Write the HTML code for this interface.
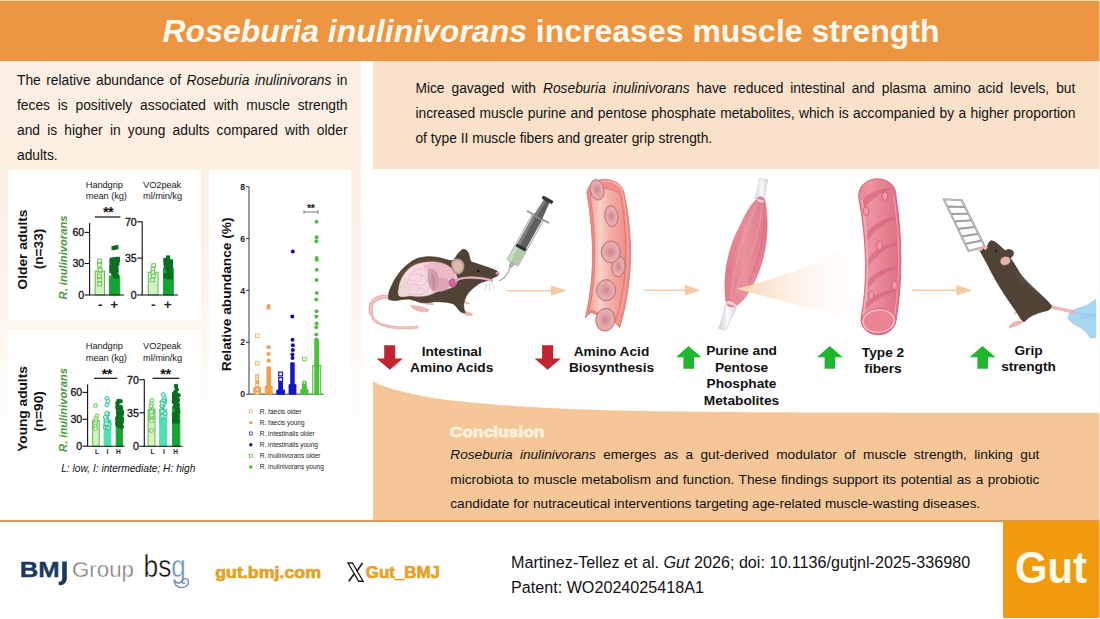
<!DOCTYPE html>
<html>
<head>
<meta charset="utf-8">
<title>Roseburia inulinivorans increases muscle strength</title>
<style>
html,body{margin:0;padding:0;}
body{width:1100px;height:619px;position:relative;overflow:hidden;background:#fff;font-family:"Liberation Sans",sans-serif;color:#111;}
.abs{position:absolute;}
#hdr{left:0;top:0;width:1100px;height:61px;background:linear-gradient(180deg,#ffd89a 0,#ffd89a 1px,#dc9b52 1.2px,#dc9b52 2.6px,#ee9541 3.6px,#ee9541 100%);}
#hdrtop{left:0;top:0;width:1100px;height:1.5px;background:#f6cf98;}
#title{left:0;top:0;width:1100px;height:61px;line-height:63px;text-align:center;color:#fffaf0;font-weight:bold;font-size:31.9px;letter-spacing:0.05px;padding-left:2px;box-sizing:border-box;}
#leftbg{left:0;top:61px;width:360.8px;height:459px;background:linear-gradient(180deg,#fcefe3 0%,#fcefe2 22%,#fcf2ea 43%,#fefbf8 72%,#ffffff 86%);}
#rtbox{left:373px;top:61px;width:727px;height:107.5px;background:#fae1ca;}
.wb{background:#fff;box-shadow:0 0 1.2px 0.2px #fff;}
#wb1{left:7.8px;top:169.6px;width:193.5px;height:150.3px;}
#wb2{left:7.8px;top:330.5px;width:193.5px;height:151px;}
#wb3{left:208.8px;top:169.6px;width:142.2px;height:311.9px;}
.para{font-size:13.8px;color:#111;}
.para div{white-space:nowrap;text-align:justify;text-align-last:justify;}
.para div.last{text-align:left;text-align-last:left;}
#ltext{left:17px;top:69.2px;width:330.5px;line-height:24.8px;}
#rtext{left:415.4px;top:75.9px;width:660px;line-height:25.3px;}
#ctext{left:450.3px;top:443px;width:589px;line-height:24.7px;font-size:13.65px;}
#concl{left:450.3px;top:424px;font-size:14.3px;font-weight:bold;color:#fdf0de;-webkit-text-stroke:0.9px #fdf0de;transform-origin:0 0;transform:scaleX(1.185);white-space:nowrap;letter-spacing:0.2px;}
#fline{left:0;top:519.8px;width:1100px;height:1.9px;background:#dc9a62;}
#gutbox{left:1003px;top:520.5px;width:97px;height:97.2px;background:#f09a0e;}
#cite{left:511px;top:550.4px;font-size:16.15px;line-height:24.9px;color:#111;white-space:nowrap;}
.lab{font-weight:bold;font-size:13.7px;line-height:16.3px;text-align:center;color:#111;white-space:nowrap;}
</style>
</head>
<body>
<div class="abs" id="hdr"></div>
<div class="abs" id="title"><i>Roseburia inulinivorans</i> increases muscle strength</div>

<div class="abs" id="leftbg"></div>
<div class="abs" id="rtbox"></div>
<div class="abs wb" id="wb1"></div>
<div class="abs wb" id="wb2"></div>
<div class="abs wb" id="wb3"></div>

<div class="abs para" id="ltext"><div>The relative abundance of <i>Roseburia inulinivorans</i> in</div><div>feces is positively associated with muscle strength</div><div>and is higher in young adults compared with older</div><div class="last">adults.</div></div>

<div class="abs para" id="rtext"><div>Mice gavaged with <i>Roseburia inulinivorans</i> have reduced intestinal and plasma amino acid levels, but</div><div>increased muscle purine and pentose phosphate metabolites, which is accompanied by a higher proportion</div><div class="last">of type II muscle fibers and greater grip strength.</div></div>

<div class="abs" id="fline"></div>
<div class="abs" id="gutbox"></div>
<!-- MAIN SVG LAYER -->
<svg class="abs" id="main" style="left:0;top:0" width="1100" height="619" viewBox="0 0 1100 619">
<defs>
<linearGradient id="curveg" x1="0" y1="0" x2="0" y2="1">
<stop offset="0" stop-color="#f5c698"/><stop offset="1" stop-color="#f5c698"/>
</linearGradient>
</defs>
<!-- orange curved region -->
<path id="curve" d="M373,381.3 C381,386.5 405,393.5 438,398.7 C480,404.3 540,408 600,410 C700,412.6 800,412.7 1100,412.7 L1100,520 L373,520 Z" fill="url(#curveg)"/>
<g id="charts" font-family="Liberation Sans, sans-serif">
<text transform="translate(26.6,249.5) rotate(-90)" font-size="13.7" text-anchor="middle" font-weight="bold" font-style="normal" fill="#111" >Older adults</text>
<text transform="translate(42.6,249.0) rotate(-90)" font-size="13.7" text-anchor="middle" font-weight="bold" font-style="normal" fill="#111" >(n=33)</text>
<text transform="translate(26.6,409.0) rotate(-90)" font-size="13.7" text-anchor="middle" font-weight="bold" font-style="normal" fill="#111" >Young adults</text>
<text transform="translate(42.6,411.5) rotate(-90)" font-size="13.7" text-anchor="middle" font-weight="bold" font-style="normal" fill="#111" >(n=90)</text>
<text transform="translate(66.8,257.5) rotate(-90)" font-size="11.2" text-anchor="middle" font-weight="bold" font-style="italic" fill="#4a9a3a" >R. inulinivorans</text>
<text transform="translate(66.8,410.0) rotate(-90)" font-size="11.2" text-anchor="middle" font-weight="bold" font-style="italic" fill="#4a9a3a" >R. inulinivorans</text>
<text x="85.8" y="188.3" font-size="9.3" text-anchor="start" font-weight="normal" font-style="normal" fill="#1a1a1a" letter-spacing="-0.1">Handgrip</text>
<text x="85.8" y="199.3" font-size="9.3" text-anchor="start" font-weight="normal" font-style="normal" fill="#1a1a1a" letter-spacing="-0.1">mean (kg)</text>
<text x="108.0" y="216.5" font-size="14.5" text-anchor="middle" font-weight="bold" font-style="normal" fill="#111" letter-spacing="-0.6">**</text>
<line x1="94.7" y1="217.0" x2="120.4" y2="217.0" stroke="#111" stroke-width="1.2"/>
<rect x="95.1" y="271.0" width="9.4" height="24.0" fill="#d3f2c4" stroke="#5cbf4c" stroke-width="1"/>
<rect x="109.6" y="276.0" width="10.1" height="19.0" fill="#15a534" stroke="#15a534" stroke-width="1"/>
<path d="M89.6,223.0 V295.0 H124.3" fill="none" stroke="#111" stroke-width="1.1"/>
<line x1="84.6" y1="232.4" x2="89.6" y2="232.4" stroke="#111" stroke-width="1.1"/>
<text x="84.0" y="236.2" font-size="10.6" text-anchor="end" font-weight="normal" font-style="normal" fill="#111" letter-spacing="-0.1" stroke="#111" stroke-width="0.3">60</text>
<line x1="84.6" y1="263.5" x2="89.6" y2="263.5" stroke="#111" stroke-width="1.1"/>
<text x="84.0" y="267.3" font-size="10.6" text-anchor="end" font-weight="normal" font-style="normal" fill="#111" letter-spacing="-0.1" stroke="#111" stroke-width="0.3">30</text>
<line x1="84.6" y1="295.0" x2="89.6" y2="295.0" stroke="#111" stroke-width="1.1"/>
<text x="84.0" y="298.8" font-size="10.6" text-anchor="end" font-weight="normal" font-style="normal" fill="#111" letter-spacing="-0.1" stroke="#111" stroke-width="0.3">0</text>
<path d="M99.8,268.0 V272.0 M96.8,268.0 H102.8 M96.8,272.0 H102.8" stroke="#5cbf4c" stroke-width="0.9" fill="none"/>
<rect x="97.8" y="259.2" width="3.6" height="3.6" fill="#eefae8" stroke="#5cbf4c" stroke-width="0.9"/>
<rect x="97.6" y="263.2" width="3.6" height="3.6" fill="#eefae8" stroke="#5cbf4c" stroke-width="0.9"/>
<rect x="98.2" y="268.2" width="3.6" height="3.6" fill="#eefae8" stroke="#5cbf4c" stroke-width="0.9"/>
<rect x="97.5" y="274.2" width="3.6" height="3.6" fill="#eefae8" stroke="#5cbf4c" stroke-width="0.9"/>
<rect x="98.0" y="278.2" width="3.6" height="3.6" fill="#eefae8" stroke="#5cbf4c" stroke-width="0.9"/>
<rect x="97.8" y="282.2" width="3.6" height="3.6" fill="#eefae8" stroke="#5cbf4c" stroke-width="0.9"/>
<rect x="109.5" y="265.5" width="4.2" height="4.2" fill="#0b6e20"/>
<rect x="109.4" y="264.1" width="4.2" height="4.2" fill="#0b6e20"/>
<rect x="109.6" y="257.6" width="4.2" height="4.2" fill="#0b6e20"/>
<rect x="112.0" y="271.6" width="4.2" height="4.2" fill="#0b6e20"/>
<rect x="109.9" y="260.1" width="4.2" height="4.2" fill="#0b6e20"/>
<rect x="113.4" y="273.9" width="4.2" height="4.2" fill="#0b6e20"/>
<rect x="113.0" y="263.4" width="4.2" height="4.2" fill="#0b6e20"/>
<rect x="115.7" y="256.8" width="4.2" height="4.2" fill="#0b6e20"/>
<rect x="114.9" y="261.4" width="4.2" height="4.2" fill="#0b6e20"/>
<rect x="110.1" y="258.1" width="4.2" height="4.2" fill="#0b6e20"/>
<rect x="111.2" y="271.4" width="4.2" height="4.2" fill="#0b6e20"/>
<rect x="110.3" y="267.0" width="4.2" height="4.2" fill="#0b6e20"/>
<rect x="113.4" y="263.0" width="4.2" height="4.2" fill="#0b6e20"/>
<rect x="112.8" y="257.1" width="4.2" height="4.2" fill="#0b6e20"/>
<rect x="109.5" y="259.8" width="4.2" height="4.2" fill="#0b6e20"/>
<rect x="113.7" y="264.0" width="4.2" height="4.2" fill="#0b6e20"/>
<rect x="111.2" y="267.0" width="4.2" height="4.2" fill="#0b6e20"/>
<rect x="112.2" y="261.6" width="4.2" height="4.2" fill="#0b6e20"/>
<rect x="114.5" y="269.2" width="4.2" height="4.2" fill="#0b6e20"/>
<rect x="110.8" y="266.8" width="4.2" height="4.2" fill="#0b6e20"/>
<rect x="112.7" y="272.5" width="4.2" height="4.2" fill="#0b6e20"/>
<rect x="114.1" y="261.4" width="4.2" height="4.2" fill="#0b6e20"/>
<rect x="115.8" y="258.1" width="4.2" height="4.2" fill="#0b6e20"/>
<rect x="111.9" y="270.3" width="4.2" height="4.2" fill="#0b6e20"/>
<rect x="110.1" y="265.2" width="4.2" height="4.2" fill="#0b6e20"/>
<rect x="109.4" y="268.6" width="4.2" height="4.2" fill="#0b6e20"/>
<rect x="114.3" y="266.8" width="4.2" height="4.2" fill="#0b6e20"/>
<rect x="115.1" y="261.9" width="4.2" height="4.2" fill="#0b6e20"/>
<rect x="113.8" y="267.2" width="4.2" height="4.2" fill="#0b6e20"/>
<rect x="113.0" y="264.6" width="4.2" height="4.2" fill="#0b6e20"/>
<rect x="114.8" y="273.8" width="4.2" height="4.2" fill="#0b6e20"/>
<rect x="112.3" y="268.5" width="4.2" height="4.2" fill="#0b6e20"/>
<rect x="109.5" y="269.2" width="4.2" height="4.2" fill="#0b6e20"/>
<rect x="113.5" y="274.8" width="4.2" height="4.2" fill="#0b6e20"/>
<rect x="111.5" y="245.9" width="4.2" height="4.2" fill="#0b6e20"/>
<rect x="114.3" y="245.2" width="4.2" height="4.2" fill="#0b6e20"/>
<text x="100.3" y="309.0" font-size="13.5" text-anchor="middle" font-weight="bold" font-style="#111" fill="#222" >-</text>
<text x="114.3" y="309.0" font-size="13.5" text-anchor="middle" font-weight="bold" font-style="#111" fill="#222" >+</text>
<text x="143.1" y="188.3" font-size="9.3" text-anchor="start" font-weight="normal" font-style="normal" fill="#1a1a1a" letter-spacing="-0.1">VO2peak</text>
<text x="143.1" y="199.3" font-size="9.3" text-anchor="start" font-weight="normal" font-style="normal" fill="#1a1a1a" letter-spacing="-0.1">ml/min/kg</text>
<rect x="148.2" y="272.2" width="9.8" height="22.8" fill="#d3f2c4" stroke="#5cbf4c" stroke-width="1"/>
<rect x="163.5" y="268.0" width="9.8" height="27.0" fill="#15a534" stroke="#15a534" stroke-width="1"/>
<path d="M142.2,221.6 V295.0 H178.0" fill="none" stroke="#111" stroke-width="1.1"/>
<line x1="137.2" y1="221.8" x2="142.2" y2="221.8" stroke="#111" stroke-width="1.1"/>
<text x="136.6" y="225.6" font-size="10.6" text-anchor="end" font-weight="normal" font-style="normal" fill="#111" letter-spacing="-0.1" stroke="#111" stroke-width="0.3">70</text>
<line x1="137.2" y1="258.1" x2="142.2" y2="258.1" stroke="#111" stroke-width="1.1"/>
<text x="136.6" y="261.9" font-size="10.6" text-anchor="end" font-weight="normal" font-style="normal" fill="#111" letter-spacing="-0.1" stroke="#111" stroke-width="0.3">35</text>
<line x1="137.2" y1="295.0" x2="142.2" y2="295.0" stroke="#111" stroke-width="1.1"/>
<text x="136.6" y="298.8" font-size="10.6" text-anchor="end" font-weight="normal" font-style="normal" fill="#111" letter-spacing="-0.1" stroke="#111" stroke-width="0.3">0</text>
<rect x="151.8" y="263.7" width="3.6" height="3.6" fill="#eefae8" stroke="#5cbf4c" stroke-width="0.9"/>
<rect x="151.0" y="267.2" width="3.6" height="3.6" fill="#eefae8" stroke="#5cbf4c" stroke-width="0.9"/>
<rect x="151.1" y="270.7" width="3.6" height="3.6" fill="#eefae8" stroke="#5cbf4c" stroke-width="0.9"/>
<rect x="151.6" y="274.2" width="3.6" height="3.6" fill="#eefae8" stroke="#5cbf4c" stroke-width="0.9"/>
<rect x="150.5" y="278.2" width="3.6" height="3.6" fill="#eefae8" stroke="#5cbf4c" stroke-width="0.9"/>
<rect x="166.0" y="260.9" width="4.2" height="4.2" fill="#0b6e20"/>
<rect x="163.8" y="259.0" width="4.2" height="4.2" fill="#0b6e20"/>
<rect x="168.1" y="260.2" width="4.2" height="4.2" fill="#0b6e20"/>
<rect x="164.6" y="264.9" width="4.2" height="4.2" fill="#0b6e20"/>
<rect x="168.8" y="259.4" width="4.2" height="4.2" fill="#0b6e20"/>
<rect x="166.0" y="267.8" width="4.2" height="4.2" fill="#0b6e20"/>
<rect x="168.8" y="272.6" width="4.2" height="4.2" fill="#0b6e20"/>
<rect x="168.7" y="262.9" width="4.2" height="4.2" fill="#0b6e20"/>
<rect x="165.7" y="264.4" width="4.2" height="4.2" fill="#0b6e20"/>
<rect x="168.8" y="275.1" width="4.2" height="4.2" fill="#0b6e20"/>
<rect x="164.0" y="261.1" width="4.2" height="4.2" fill="#0b6e20"/>
<rect x="164.5" y="262.1" width="4.2" height="4.2" fill="#0b6e20"/>
<rect x="166.2" y="268.5" width="4.2" height="4.2" fill="#0b6e20"/>
<rect x="164.7" y="258.0" width="4.2" height="4.2" fill="#0b6e20"/>
<rect x="165.8" y="264.5" width="4.2" height="4.2" fill="#0b6e20"/>
<rect x="166.7" y="275.1" width="4.2" height="4.2" fill="#0b6e20"/>
<rect x="167.6" y="267.2" width="4.2" height="4.2" fill="#0b6e20"/>
<rect x="167.1" y="270.1" width="4.2" height="4.2" fill="#0b6e20"/>
<rect x="163.4" y="274.1" width="4.2" height="4.2" fill="#0b6e20"/>
<rect x="168.1" y="273.6" width="4.2" height="4.2" fill="#0b6e20"/>
<rect x="168.3" y="265.0" width="4.2" height="4.2" fill="#0b6e20"/>
<rect x="165.6" y="259.8" width="4.2" height="4.2" fill="#0b6e20"/>
<rect x="167.2" y="259.0" width="4.2" height="4.2" fill="#0b6e20"/>
<rect x="163.4" y="261.7" width="4.2" height="4.2" fill="#0b6e20"/>
<rect x="164.1" y="264.0" width="4.2" height="4.2" fill="#0b6e20"/>
<rect x="163.3" y="257.9" width="4.2" height="4.2" fill="#0b6e20"/>
<rect x="164.0" y="259.7" width="4.2" height="4.2" fill="#0b6e20"/>
<rect x="165.4" y="258.4" width="4.2" height="4.2" fill="#0b6e20"/>
<rect x="168.8" y="269.0" width="4.2" height="4.2" fill="#0b6e20"/>
<rect x="164.0" y="262.4" width="4.2" height="4.2" fill="#0b6e20"/>
<rect x="165.3" y="264.5" width="4.2" height="4.2" fill="#0b6e20"/>
<rect x="163.8" y="273.2" width="4.2" height="4.2" fill="#0b6e20"/>
<rect x="165.9" y="255.4" width="4.2" height="4.2" fill="#0b6e20"/>
<text x="153.2" y="309.0" font-size="13.5" text-anchor="middle" font-weight="bold" font-style="#111" fill="#222" >-</text>
<text x="167.8" y="309.0" font-size="13.5" text-anchor="middle" font-weight="bold" font-style="#111" fill="#222" >+</text>
<text x="85.8" y="349.0" font-size="9.3" text-anchor="start" font-weight="normal" font-style="normal" fill="#1a1a1a" letter-spacing="-0.1">Handgrip</text>
<text x="85.8" y="360.8" font-size="9.3" text-anchor="start" font-weight="normal" font-style="normal" fill="#1a1a1a" letter-spacing="-0.1">mean (kg)</text>
<text x="106.8" y="378.5" font-size="14.5" text-anchor="middle" font-weight="bold" font-style="normal" fill="#111" letter-spacing="-0.6">**</text>
<line x1="94.0" y1="378.3" x2="117.4" y2="378.3" stroke="#111" stroke-width="1.2"/>
<rect x="92.6" y="420.5" width="6.6" height="25.7" fill="#d3f2c4" stroke="#5cbf4c" stroke-width="1"/>
<rect x="104.1" y="419.8" width="6.7" height="26.4" fill="#4fe0ae" stroke="#4fe0ae" stroke-width="1"/>
<rect x="116.2" y="417.0" width="6.2" height="29.2" fill="#15a534" stroke="#15a534" stroke-width="1"/>
<path d="M87.6,384.2 V446.2 H124.6" fill="none" stroke="#111" stroke-width="1.1"/>
<line x1="82.6" y1="392.4" x2="87.6" y2="392.4" stroke="#111" stroke-width="1.1"/>
<text x="82.0" y="396.2" font-size="10.6" text-anchor="end" font-weight="normal" font-style="normal" fill="#111" letter-spacing="-0.1" stroke="#111" stroke-width="0.3">60</text>
<line x1="82.6" y1="419.3" x2="87.6" y2="419.3" stroke="#111" stroke-width="1.1"/>
<text x="82.0" y="423.1" font-size="10.6" text-anchor="end" font-weight="normal" font-style="normal" fill="#111" letter-spacing="-0.1" stroke="#111" stroke-width="0.3">30</text>
<line x1="82.6" y1="446.2" x2="87.6" y2="446.2" stroke="#111" stroke-width="1.1"/>
<text x="82.0" y="450.0" font-size="10.6" text-anchor="end" font-weight="normal" font-style="normal" fill="#111" letter-spacing="-0.1" stroke="#111" stroke-width="0.3">0</text>
<circle cx="95.6" cy="405.5" r="2.0" fill="#e6f8dc" stroke="#5cbf4c" stroke-width="0.9"/>
<circle cx="97.0" cy="416.0" r="2.0" fill="#e6f8dc" stroke="#5cbf4c" stroke-width="0.9"/>
<circle cx="95.8" cy="418.5" r="2.0" fill="#e6f8dc" stroke="#5cbf4c" stroke-width="0.9"/>
<circle cx="95.9" cy="421.0" r="2.0" fill="#e6f8dc" stroke="#5cbf4c" stroke-width="0.9"/>
<circle cx="95.0" cy="423.5" r="2.0" fill="#e6f8dc" stroke="#5cbf4c" stroke-width="0.9"/>
<circle cx="95.0" cy="426.0" r="2.0" fill="#e6f8dc" stroke="#5cbf4c" stroke-width="0.9"/>
<circle cx="95.6" cy="428.5" r="2.0" fill="#e6f8dc" stroke="#5cbf4c" stroke-width="0.9"/>
<circle cx="107.0" cy="398.5" r="2.0" fill="#b8f5dc" stroke="#2fc090" stroke-width="0.9"/>
<circle cx="107.9" cy="401.5" r="2.0" fill="#b8f5dc" stroke="#2fc090" stroke-width="0.9"/>
<circle cx="106.9" cy="405.0" r="2.0" fill="#b8f5dc" stroke="#2fc090" stroke-width="0.9"/>
<circle cx="105.3" cy="427.3" r="2.0" fill="#b8f5dc" stroke="#2fc090" stroke-width="0.9"/>
<circle cx="107.5" cy="415.2" r="2.0" fill="#b8f5dc" stroke="#2fc090" stroke-width="0.9"/>
<circle cx="107.6" cy="413.4" r="2.0" fill="#b8f5dc" stroke="#2fc090" stroke-width="0.9"/>
<circle cx="107.5" cy="427.7" r="2.0" fill="#b8f5dc" stroke="#2fc090" stroke-width="0.9"/>
<circle cx="109.0" cy="423.4" r="2.0" fill="#b8f5dc" stroke="#2fc090" stroke-width="0.9"/>
<circle cx="106.3" cy="418.5" r="2.0" fill="#b8f5dc" stroke="#2fc090" stroke-width="0.9"/>
<circle cx="105.9" cy="424.6" r="2.0" fill="#b8f5dc" stroke="#2fc090" stroke-width="0.9"/>
<circle cx="107.5" cy="424.7" r="2.0" fill="#b8f5dc" stroke="#2fc090" stroke-width="0.9"/>
<circle cx="106.7" cy="416.3" r="2.0" fill="#b8f5dc" stroke="#2fc090" stroke-width="0.9"/>
<circle cx="108.8" cy="427.8" r="2.0" fill="#b8f5dc" stroke="#2fc090" stroke-width="0.9"/>
<circle cx="109.0" cy="425.1" r="2.0" fill="#b8f5dc" stroke="#2fc090" stroke-width="0.9"/>
<circle cx="108.8" cy="424.1" r="2.0" fill="#b8f5dc" stroke="#2fc090" stroke-width="0.9"/>
<circle cx="106.2" cy="420.8" r="2.0" fill="#b8f5dc" stroke="#2fc090" stroke-width="0.9"/>
<circle cx="106.8" cy="413.4" r="2.0" fill="#b8f5dc" stroke="#2fc090" stroke-width="0.9"/>
<circle cx="105.3" cy="417.2" r="2.0" fill="#b8f5dc" stroke="#2fc090" stroke-width="0.9"/>
<circle cx="106.3" cy="423.4" r="2.0" fill="#b8f5dc" stroke="#2fc090" stroke-width="0.9"/>
<circle cx="121.8" cy="413.7" r="2.3" fill="#0b6e20"/>
<circle cx="121.7" cy="426.7" r="2.3" fill="#0b6e20"/>
<circle cx="121.8" cy="411.8" r="2.3" fill="#0b6e20"/>
<circle cx="117.9" cy="408.4" r="2.3" fill="#0b6e20"/>
<circle cx="117.8" cy="407.9" r="2.3" fill="#0b6e20"/>
<circle cx="120.0" cy="424.6" r="2.3" fill="#0b6e20"/>
<circle cx="121.2" cy="414.5" r="2.3" fill="#0b6e20"/>
<circle cx="120.2" cy="422.2" r="2.3" fill="#0b6e20"/>
<circle cx="117.2" cy="418.9" r="2.3" fill="#0b6e20"/>
<circle cx="121.5" cy="421.8" r="2.3" fill="#0b6e20"/>
<circle cx="120.7" cy="414.5" r="2.3" fill="#0b6e20"/>
<circle cx="117.7" cy="421.9" r="2.3" fill="#0b6e20"/>
<circle cx="118.5" cy="422.2" r="2.3" fill="#0b6e20"/>
<circle cx="121.9" cy="412.5" r="2.3" fill="#0b6e20"/>
<circle cx="118.9" cy="425.7" r="2.3" fill="#0b6e20"/>
<circle cx="120.6" cy="407.1" r="2.3" fill="#0b6e20"/>
<circle cx="117.5" cy="406.6" r="2.3" fill="#0b6e20"/>
<circle cx="121.5" cy="422.4" r="2.3" fill="#0b6e20"/>
<circle cx="117.6" cy="422.8" r="2.3" fill="#0b6e20"/>
<circle cx="121.9" cy="418.8" r="2.3" fill="#0b6e20"/>
<circle cx="118.6" cy="416.2" r="2.3" fill="#0b6e20"/>
<circle cx="117.5" cy="403.3" r="2.3" fill="#0b6e20"/>
<circle cx="121.8" cy="418.6" r="2.3" fill="#0b6e20"/>
<circle cx="119.5" cy="425.4" r="2.3" fill="#0b6e20"/>
<circle cx="119.1" cy="423.9" r="2.3" fill="#0b6e20"/>
<circle cx="121.1" cy="408.1" r="2.3" fill="#0b6e20"/>
<circle cx="118.1" cy="410.0" r="2.3" fill="#0b6e20"/>
<circle cx="118.1" cy="417.1" r="2.3" fill="#0b6e20"/>
<circle cx="118.1" cy="413.1" r="2.3" fill="#0b6e20"/>
<circle cx="117.5" cy="424.8" r="2.3" fill="#0b6e20"/>
<circle cx="118.6" cy="414.0" r="2.3" fill="#0b6e20"/>
<circle cx="119.8" cy="424.7" r="2.3" fill="#0b6e20"/>
<circle cx="119.0" cy="425.0" r="2.3" fill="#0b6e20"/>
<circle cx="119.4" cy="415.8" r="2.3" fill="#0b6e20"/>
<circle cx="118.5" cy="401.0" r="2.3" fill="#0b6e20"/>
<circle cx="120.5" cy="401.3" r="2.3" fill="#0b6e20"/>
<text x="97.0" y="454.0" font-size="6.6" text-anchor="middle" font-weight="bold" font-style="#333" fill="#222" >L</text>
<text x="107.5" y="454.0" font-size="6.6" text-anchor="middle" font-weight="bold" font-style="#333" fill="#222" >I</text>
<text x="118.5" y="454.0" font-size="6.6" text-anchor="middle" font-weight="bold" font-style="#333" fill="#222" >H</text>
<text x="143.1" y="349.0" font-size="9.3" text-anchor="start" font-weight="normal" font-style="normal" fill="#1a1a1a" letter-spacing="-0.1">VO2peak</text>
<text x="143.1" y="360.8" font-size="9.3" text-anchor="start" font-weight="normal" font-style="normal" fill="#1a1a1a" letter-spacing="-0.1">ml/min/kg</text>
<text x="165.4" y="378.5" font-size="14.5" text-anchor="middle" font-weight="bold" font-style="normal" fill="#111" letter-spacing="-0.6">**</text>
<line x1="152.5" y1="378.3" x2="179.4" y2="378.3" stroke="#111" stroke-width="1.2"/>
<rect x="148.1" y="409.5" width="6.9" height="36.7" fill="#d3f2c4" stroke="#5cbf4c" stroke-width="1"/>
<rect x="159.6" y="409.5" width="7.1" height="36.7" fill="#4fe0ae" stroke="#4fe0ae" stroke-width="1"/>
<rect x="172.6" y="407.6" width="7.2" height="38.6" fill="#15a534" stroke="#15a534" stroke-width="1"/>
<path d="M144.3,379.5 V446.2 H182.5" fill="none" stroke="#111" stroke-width="1.1"/>
<line x1="139.3" y1="379.7" x2="144.3" y2="379.7" stroke="#111" stroke-width="1.1"/>
<text x="138.7" y="383.5" font-size="10.6" text-anchor="end" font-weight="normal" font-style="normal" fill="#111" letter-spacing="-0.1" stroke="#111" stroke-width="0.3">70</text>
<line x1="139.3" y1="412.8" x2="144.3" y2="412.8" stroke="#111" stroke-width="1.1"/>
<text x="138.7" y="416.6" font-size="10.6" text-anchor="end" font-weight="normal" font-style="normal" fill="#111" letter-spacing="-0.1" stroke="#111" stroke-width="0.3">35</text>
<line x1="139.3" y1="446.2" x2="144.3" y2="446.2" stroke="#111" stroke-width="1.1"/>
<text x="138.7" y="450.0" font-size="10.6" text-anchor="end" font-weight="normal" font-style="normal" fill="#111" letter-spacing="-0.1" stroke="#111" stroke-width="0.3">0</text>
<circle cx="151.8" cy="400.4" r="2.0" fill="#e6f8dc" stroke="#5cbf4c" stroke-width="0.9"/>
<circle cx="151.5" cy="404.0" r="2.0" fill="#e6f8dc" stroke="#5cbf4c" stroke-width="0.9"/>
<circle cx="150.1" cy="417.6" r="2.0" fill="#e6f8dc" stroke="#5cbf4c" stroke-width="0.9"/>
<circle cx="150.7" cy="410.4" r="2.0" fill="#e6f8dc" stroke="#5cbf4c" stroke-width="0.9"/>
<circle cx="152.4" cy="412.2" r="2.0" fill="#e6f8dc" stroke="#5cbf4c" stroke-width="0.9"/>
<circle cx="151.1" cy="411.4" r="2.0" fill="#e6f8dc" stroke="#5cbf4c" stroke-width="0.9"/>
<circle cx="151.9" cy="417.3" r="2.0" fill="#e6f8dc" stroke="#5cbf4c" stroke-width="0.9"/>
<circle cx="150.4" cy="412.3" r="2.0" fill="#e6f8dc" stroke="#5cbf4c" stroke-width="0.9"/>
<circle cx="150.9" cy="406.1" r="2.0" fill="#e6f8dc" stroke="#5cbf4c" stroke-width="0.9"/>
<circle cx="152.6" cy="411.2" r="2.0" fill="#e6f8dc" stroke="#5cbf4c" stroke-width="0.9"/>
<circle cx="151.9" cy="416.7" r="2.0" fill="#e6f8dc" stroke="#5cbf4c" stroke-width="0.9"/>
<circle cx="153.0" cy="409.8" r="2.0" fill="#e6f8dc" stroke="#5cbf4c" stroke-width="0.9"/>
<circle cx="152.1" cy="411.1" r="2.0" fill="#e6f8dc" stroke="#5cbf4c" stroke-width="0.9"/>
<circle cx="151.7" cy="415.2" r="2.0" fill="#e6f8dc" stroke="#5cbf4c" stroke-width="0.9"/>
<circle cx="151.5" cy="411.7" r="2.0" fill="#e6f8dc" stroke="#5cbf4c" stroke-width="0.9"/>
<circle cx="151.6" cy="420.7" r="2.0" fill="#e6f8dc" stroke="#5cbf4c" stroke-width="0.9"/>
<circle cx="151.5" cy="430.5" r="2.0" fill="#e6f8dc" stroke="#5cbf4c" stroke-width="0.9"/>
<circle cx="164.0" cy="414.5" r="2.0" fill="#b8f5dc" stroke="#2fc090" stroke-width="0.9"/>
<circle cx="164.9" cy="402.2" r="2.0" fill="#b8f5dc" stroke="#2fc090" stroke-width="0.9"/>
<circle cx="163.5" cy="415.9" r="2.0" fill="#b8f5dc" stroke="#2fc090" stroke-width="0.9"/>
<circle cx="164.5" cy="399.7" r="2.0" fill="#b8f5dc" stroke="#2fc090" stroke-width="0.9"/>
<circle cx="161.9" cy="405.8" r="2.0" fill="#b8f5dc" stroke="#2fc090" stroke-width="0.9"/>
<circle cx="161.8" cy="401.8" r="2.0" fill="#b8f5dc" stroke="#2fc090" stroke-width="0.9"/>
<circle cx="161.8" cy="410.4" r="2.0" fill="#b8f5dc" stroke="#2fc090" stroke-width="0.9"/>
<circle cx="164.3" cy="414.9" r="2.0" fill="#b8f5dc" stroke="#2fc090" stroke-width="0.9"/>
<circle cx="162.1" cy="411.3" r="2.0" fill="#b8f5dc" stroke="#2fc090" stroke-width="0.9"/>
<circle cx="163.9" cy="399.9" r="2.0" fill="#b8f5dc" stroke="#2fc090" stroke-width="0.9"/>
<circle cx="164.7" cy="416.4" r="2.0" fill="#b8f5dc" stroke="#2fc090" stroke-width="0.9"/>
<circle cx="162.3" cy="416.1" r="2.0" fill="#b8f5dc" stroke="#2fc090" stroke-width="0.9"/>
<circle cx="162.9" cy="406.7" r="2.0" fill="#b8f5dc" stroke="#2fc090" stroke-width="0.9"/>
<circle cx="165.1" cy="413.6" r="2.0" fill="#b8f5dc" stroke="#2fc090" stroke-width="0.9"/>
<circle cx="162.1" cy="405.6" r="2.0" fill="#b8f5dc" stroke="#2fc090" stroke-width="0.9"/>
<circle cx="163.4" cy="403.8" r="2.0" fill="#b8f5dc" stroke="#2fc090" stroke-width="0.9"/>
<circle cx="162.2" cy="403.4" r="2.0" fill="#b8f5dc" stroke="#2fc090" stroke-width="0.9"/>
<circle cx="164.1" cy="397.4" r="2.0" fill="#b8f5dc" stroke="#2fc090" stroke-width="0.9"/>
<circle cx="163.2" cy="394.5" r="2.0" fill="#b8f5dc" stroke="#2fc090" stroke-width="0.9"/>
<circle cx="176.6" cy="405.2" r="2.3" fill="#0b6e20"/>
<circle cx="174.0" cy="401.9" r="2.3" fill="#0b6e20"/>
<circle cx="176.9" cy="407.4" r="2.3" fill="#0b6e20"/>
<circle cx="174.2" cy="421.6" r="2.3" fill="#0b6e20"/>
<circle cx="177.7" cy="421.2" r="2.3" fill="#0b6e20"/>
<circle cx="174.4" cy="400.0" r="2.3" fill="#0b6e20"/>
<circle cx="174.1" cy="415.4" r="2.3" fill="#0b6e20"/>
<circle cx="175.2" cy="395.9" r="2.3" fill="#0b6e20"/>
<circle cx="175.9" cy="419.3" r="2.3" fill="#0b6e20"/>
<circle cx="177.8" cy="399.8" r="2.3" fill="#0b6e20"/>
<circle cx="174.6" cy="419.6" r="2.3" fill="#0b6e20"/>
<circle cx="176.6" cy="413.0" r="2.3" fill="#0b6e20"/>
<circle cx="174.3" cy="393.7" r="2.3" fill="#0b6e20"/>
<circle cx="177.2" cy="404.8" r="2.3" fill="#0b6e20"/>
<circle cx="174.2" cy="420.2" r="2.3" fill="#0b6e20"/>
<circle cx="176.9" cy="416.0" r="2.3" fill="#0b6e20"/>
<circle cx="174.3" cy="417.7" r="2.3" fill="#0b6e20"/>
<circle cx="174.2" cy="417.9" r="2.3" fill="#0b6e20"/>
<circle cx="176.1" cy="402.2" r="2.3" fill="#0b6e20"/>
<circle cx="176.6" cy="419.8" r="2.3" fill="#0b6e20"/>
<circle cx="175.2" cy="395.9" r="2.3" fill="#0b6e20"/>
<circle cx="176.4" cy="399.2" r="2.3" fill="#0b6e20"/>
<circle cx="174.4" cy="396.8" r="2.3" fill="#0b6e20"/>
<circle cx="174.1" cy="398.1" r="2.3" fill="#0b6e20"/>
<circle cx="175.4" cy="401.2" r="2.3" fill="#0b6e20"/>
<circle cx="177.5" cy="400.7" r="2.3" fill="#0b6e20"/>
<circle cx="176.3" cy="397.3" r="2.3" fill="#0b6e20"/>
<circle cx="175.6" cy="392.5" r="2.3" fill="#0b6e20"/>
<circle cx="175.1" cy="392.5" r="2.3" fill="#0b6e20"/>
<circle cx="177.4" cy="408.5" r="2.3" fill="#0b6e20"/>
<circle cx="174.8" cy="406.2" r="2.3" fill="#0b6e20"/>
<circle cx="178.4" cy="395.2" r="2.3" fill="#0b6e20"/>
<circle cx="177.8" cy="405.0" r="2.3" fill="#0b6e20"/>
<circle cx="176.3" cy="417.0" r="2.3" fill="#0b6e20"/>
<circle cx="175.8" cy="407.2" r="2.3" fill="#0b6e20"/>
<circle cx="177.2" cy="421.5" r="2.3" fill="#0b6e20"/>
<circle cx="175.5" cy="417.0" r="2.3" fill="#0b6e20"/>
<circle cx="177.3" cy="411.1" r="2.3" fill="#0b6e20"/>
<circle cx="175.8" cy="402.4" r="2.3" fill="#0b6e20"/>
<circle cx="174.2" cy="395.9" r="2.3" fill="#0b6e20"/>
<circle cx="174.2" cy="414.2" r="2.3" fill="#0b6e20"/>
<circle cx="175.1" cy="396.9" r="2.3" fill="#0b6e20"/>
<circle cx="174.3" cy="417.2" r="2.3" fill="#0b6e20"/>
<circle cx="178.1" cy="412.1" r="2.3" fill="#0b6e20"/>
<circle cx="176.0" cy="386.0" r="2.3" fill="#0b6e20"/>
<circle cx="176.7" cy="389.5" r="2.3" fill="#0b6e20"/>
<text x="152.6" y="454.0" font-size="6.6" text-anchor="middle" font-weight="bold" font-style="#333" fill="#222" >L</text>
<text x="163.8" y="454.0" font-size="6.6" text-anchor="middle" font-weight="bold" font-style="#333" fill="#222" >I</text>
<text x="175.6" y="454.0" font-size="6.6" text-anchor="middle" font-weight="bold" font-style="#333" fill="#222" >H</text>
<text x="61.2" y="471.6" font-size="10.2" text-anchor="start" font-weight="normal" font-style="italic" fill="#111" >L: low, I: intermediate; H: high</text>
<path d="M249,186.7 V394.2 H323.5" fill="none" stroke="#222" stroke-width="0.9"/>
<line x1="246" y1="394.2" x2="249" y2="394.2" stroke="#222" stroke-width="0.9"/>
<text x="245.0" y="397.3" font-size="8.6" text-anchor="end" font-weight="bold" font-style="normal" fill="#222" >0</text>
<line x1="246" y1="342.3" x2="249" y2="342.3" stroke="#222" stroke-width="0.9"/>
<text x="245.0" y="345.4" font-size="8.6" text-anchor="end" font-weight="bold" font-style="normal" fill="#222" >2</text>
<line x1="246" y1="290.4" x2="249" y2="290.4" stroke="#222" stroke-width="0.9"/>
<text x="245.0" y="293.5" font-size="8.6" text-anchor="end" font-weight="bold" font-style="normal" fill="#222" >4</text>
<line x1="246" y1="238.6" x2="249" y2="238.6" stroke="#222" stroke-width="0.9"/>
<text x="245.0" y="241.7" font-size="8.6" text-anchor="end" font-weight="bold" font-style="normal" fill="#222" >6</text>
<line x1="246" y1="186.7" x2="249" y2="186.7" stroke="#222" stroke-width="0.9"/>
<text x="245.0" y="189.8" font-size="8.6" text-anchor="end" font-weight="bold" font-style="normal" fill="#222" >8</text>
<text transform="translate(231.1,294.3) rotate(-90)" font-size="13.7" text-anchor="middle" font-weight="bold" font-style="normal" fill="#111" >Relative abundance (%)</text>
<rect x="312.7" y="365.4" width="8.0" height="28.8" fill="#dcf6d2" stroke="#4cc03c" stroke-width="1"/>
<rect x="253.2" y="386.9" width="8.0" height="7.9" rx="1.2" fill="#f0a858"/>
<rect x="255.2" y="374.0" width="4.0" height="13.6" rx="1.2" fill="#f0a858"/>
<rect x="256.2" y="392.4" width="2" height="2" fill="#fff" fill-opacity="0.85"/>
<rect x="256.2" y="388.5" width="2" height="2" fill="#fff" fill-opacity="0.85"/>
<rect x="256.2" y="384.1" width="2" height="2" fill="#fff" fill-opacity="0.85"/>
<rect x="256.2" y="378.2" width="2" height="2" fill="#fff" fill-opacity="0.85"/>
<rect x="256.2" y="375.3" width="2" height="2" fill="#fff" fill-opacity="0.85"/>
<rect x="255.4" y="334.0" width="3.6" height="3.6" fill="#fff" fill-opacity="0.7" stroke="#e8a860" stroke-width="0.8"/>
<rect x="255.4" y="361.5" width="3.6" height="3.6" fill="#fff" fill-opacity="0.7" stroke="#e8a860" stroke-width="0.8"/>
<rect x="264.7" y="385.6" width="8.0" height="9.2" rx="1.2" fill="#f0a050"/>
<rect x="266.4" y="366.2" width="4.6" height="20.1" rx="1.2" fill="#f0a050"/>
<circle cx="268.6" cy="360.7" r="2.1" fill="#f0a050"/>
<circle cx="268.5" cy="354.0" r="2.1" fill="#f0a050"/>
<circle cx="268.6" cy="347.2" r="2.1" fill="#f0a050"/>
<circle cx="268.7" cy="306.0" r="2.0" fill="#f0a050"/>
<circle cx="268.4" cy="307.8" r="2.0" fill="#f0a050"/>
<rect x="276.3" y="389.5" width="8.6" height="5.3" rx="1.2" fill="#1414c8"/>
<rect x="278.2" y="381.7" width="4.8" height="8.4" rx="1.2" fill="#1414c8"/>
<rect x="278.7" y="377.6" width="3.8" height="3.8" fill="#fff" stroke="#1414c8" stroke-width="1.2"/>
<rect x="278.7" y="372.1" width="3.8" height="3.8" fill="#fff" stroke="#1414c8" stroke-width="1.2"/>
<rect x="288.6" y="384.1" width="7.8" height="10.7" rx="1.2" fill="#1414c8"/>
<rect x="290.2" y="362.3" width="4.5" height="22.4" rx="1.2" fill="#1414c8"/>
<circle cx="292.5" cy="357.9" r="2.0" fill="#10109a"/>
<circle cx="292.4" cy="354.5" r="2.0" fill="#10109a"/>
<circle cx="292.8" cy="350.1" r="2.0" fill="#10109a"/>
<circle cx="292.8" cy="345.2" r="2.0" fill="#10109a"/>
<circle cx="292.5" cy="339.7" r="2.0" fill="#10109a"/>
<circle cx="292.3" cy="316.4" r="2.0" fill="#10109a"/>
<circle cx="292.8" cy="251.5" r="2.0" fill="#10109a"/>
<rect x="300.3" y="389.0" width="8.2" height="5.8" rx="1.2" fill="#4cc03c"/>
<rect x="302.0" y="382.3" width="4.8" height="7.3" rx="1.2" fill="#4cc03c"/>
<rect x="302.9" y="381.2" width="3" height="3" fill="#c8f0c0" stroke="#4cc03c" stroke-width="1"/>
<rect x="302.6" y="357.3" width="3.6" height="3.6" fill="#fff" fill-opacity="0.7" stroke="#4cc03c" stroke-width="0.8"/>
<rect x="314.3" y="339.2" width="4.8" height="55.6" rx="1.2" fill="#4cc03c"/>
<circle cx="316.5" cy="221.7" r="2.0" fill="#4cc03c"/>
<circle cx="316.6" cy="237.3" r="2.0" fill="#4cc03c"/>
<circle cx="316.3" cy="241.2" r="2.0" fill="#4cc03c"/>
<circle cx="316.6" cy="258.0" r="2.0" fill="#4cc03c"/>
<circle cx="316.7" cy="259.8" r="2.0" fill="#4cc03c"/>
<circle cx="316.7" cy="269.7" r="2.0" fill="#4cc03c"/>
<circle cx="316.5" cy="280.1" r="2.0" fill="#4cc03c"/>
<circle cx="316.7" cy="293.0" r="2.0" fill="#4cc03c"/>
<circle cx="316.3" cy="299.5" r="2.0" fill="#4cc03c"/>
<circle cx="316.5" cy="311.2" r="2.0" fill="#4cc03c"/>
<circle cx="316.4" cy="316.4" r="2.0" fill="#4cc03c"/>
<circle cx="316.6" cy="323.6" r="2.0" fill="#4cc03c"/>
<circle cx="316.3" cy="327.3" r="2.0" fill="#4cc03c"/>
<circle cx="316.3" cy="334.5" r="2.0" fill="#4cc03c"/>
<circle cx="316.5" cy="339.7" r="2.2" fill="#4cc03c"/>
<circle cx="316.4" cy="343.4" r="2.2" fill="#4cc03c"/>
<circle cx="316.8" cy="348.0" r="2.2" fill="#4cc03c"/>
<circle cx="316.7" cy="352.7" r="2.2" fill="#4cc03c"/>
<circle cx="317.0" cy="357.4" r="2.2" fill="#4cc03c"/>
<circle cx="316.9" cy="361.8" r="2.2" fill="#4cc03c"/>
<text x="310.8" y="211.5" font-size="11" text-anchor="middle" font-weight="bold" font-style="#222" fill="#222" letter-spacing="-0.5">**</text>
<path d="M304,212 H318 M304,210.3 V213.7 M318,210.3 V213.7" stroke="#555" stroke-width="0.8" fill="none"/>
<rect x="249.3" y="409.8" width="3" height="3" fill="#fff" stroke="#d8b870" stroke-width="0.8"/>
<text x="259.8" y="413.6" font-size="6.5" text-anchor="start" font-weight="normal" font-style="normal" fill="#222" >R. faecis older</text>
<circle cx="250.8" cy="422.6" r="1.7" fill="#e0a068"/>
<text x="259.8" y="424.9" font-size="6.5" text-anchor="start" font-weight="normal" font-style="normal" fill="#222" >R. faecis young</text>
<rect x="249.3" y="432.0" width="3" height="3" fill="#fff" stroke="#3a3a9a" stroke-width="0.8"/>
<text x="259.8" y="435.8" font-size="6.5" text-anchor="start" font-weight="normal" font-style="normal" fill="#222" >R. intestinalis older</text>
<circle cx="250.8" cy="444.7" r="1.7" fill="#10109a"/>
<text x="259.8" y="447.0" font-size="6.5" text-anchor="start" font-weight="normal" font-style="normal" fill="#222" >R. intestinalis young</text>
<rect x="249.3" y="454.3" width="3" height="3" fill="#fff" stroke="#68b858" stroke-width="0.8"/>
<text x="259.8" y="458.1" font-size="6.5" text-anchor="start" font-weight="normal" font-style="normal" fill="#222" >R. inulinivorans older</text>
<circle cx="250.8" cy="467.0" r="1.7" fill="#4cb83c"/>
<text x="259.8" y="469.3" font-size="6.5" text-anchor="start" font-weight="normal" font-style="normal" fill="#222" >R. inulinivorans young</text>
</g>
<defs>
<linearGradient id="beamg" x1="0" y1="0" x2="1" y2="0">
<stop offset="0" stop-color="#f8d0ac"/><stop offset="0.22" stop-color="#fbe0c8" stop-opacity="0.9"/><stop offset="0.5" stop-color="#fdecdc" stop-opacity="0.7"/><stop offset="0.8" stop-color="#fff6ee" stop-opacity="0.4"/><stop offset="1" stop-color="#ffffff" stop-opacity="0"/>
</linearGradient>
<linearGradient id="lumeng" x1="0" y1="0" x2="1" y2="0">
<stop offset="0" stop-color="#f29c94"/><stop offset="0.32" stop-color="#fbd0c6"/><stop offset="0.62" stop-color="#f5aca4"/><stop offset="1" stop-color="#ef908a"/>
</linearGradient>
<radialGradient id="rbcg" cx="0.5" cy="0.5" r="0.5">
<stop offset="0" stop-color="#cf8289"/><stop offset="0.4" stop-color="#de9ca1"/><stop offset="0.75" stop-color="#e8aeb0"/><stop offset="1" stop-color="#dc9a9e"/>
</radialGradient>
<linearGradient id="musg" x1="0" y1="0" x2="1" y2="0">
<stop offset="0" stop-color="#e07a8a"/><stop offset="0.45" stop-color="#ea929e"/><stop offset="1" stop-color="#df7888"/>
</linearGradient>
<linearGradient id="fibg" x1="0" y1="0" x2="1" y2="0">
<stop offset="0" stop-color="#e88698"/><stop offset="0.3" stop-color="#ee929f"/><stop offset="0.75" stop-color="#e27a8c"/><stop offset="1" stop-color="#dc6e82"/>
</linearGradient>
<linearGradient id="teng" x1="0" y1="0" x2="1" y2="0">
<stop offset="0" stop-color="#d2d2d6"/><stop offset="0.5" stop-color="#fafafa"/><stop offset="1" stop-color="#d6d6da"/>
</linearGradient>
<pattern id="dots" width="7" height="7" patternUnits="userSpaceOnUse">
<rect width="7" height="7" fill="#ef8e9c"/><circle cx="2" cy="2" r="1.5" fill="#dc566c"/><circle cx="5.5" cy="5.5" r="1.5" fill="#dc566c"/>
</pattern>
</defs>

<!-- flow arrows -->
<g fill="#f5c9a3" stroke="none">
<path d="M507,289.9 H551 V285.4 L566.5,290.6 L551,295.8 V291.4 H507 Z"/>
<path d="M643.8,289.6 H685 V285.1 L700.5,290.3 L685,295.5 V291.1 H643.8 Z"/>
<path d="M912.4,289.6 H956.5 V285.1 L972,290.3 L956.5,295.5 V291.1 H912.4 Z"/>
</g>


<g id="mouse1" transform="translate(370,235) scale(0.16155)">
<!-- tail -->
<path d="M122,392 C92,378 50,386 28,404 C0,428 -2,472 18,515 C46,562 160,586 292,570" fill="none" stroke="#e4aca6" stroke-width="18" stroke-linecap="round"/>
<path d="M126,392 C92,376 50,384 26,404 C6,424 0,450 6,480" fill="none" stroke="#e4aca6" stroke-width="26" stroke-linecap="round"/>
<path d="M126,392 C92,376 50,384 26,404 C6,424 0,450 6,480" fill="none" stroke="#f0c4be" stroke-width="15" stroke-linecap="round"/>
<path d="M122,392 C92,378 50,386 28,404 C0,428 -2,472 18,515 C46,562 160,586 292,570" fill="none" stroke="#f0c4be" stroke-width="10" stroke-linecap="round"/>
<!-- feet -->
<path d="M252,436 C290,438 342,448 366,462 C362,476 334,480 304,471 C278,463 256,452 252,436 Z" fill="#ecb8b2" stroke="#d89c98" stroke-width="3"/>
<path d="M335,416 C360,414 386,420 400,428 C386,436 360,434 340,428 Z" fill="#ecb8b2"/>
<path d="M572,468 C594,474 626,482 636,493 C626,503 600,499 584,490 Z" fill="#ecb8b2" stroke="#d89c98" stroke-width="3"/>
<path d="M574,406 C592,408 613,416 619,427 C606,432 588,425 577,418 Z" fill="#ecb8b2"/>
<!-- body -->
<path d="M116,396 C110,370 120,340 135,312 C162,252 215,180 292,146 C350,126 420,134 470,152 C490,158 505,160 520,156 C530,138 545,108 572,90 C590,83 608,100 614,128 C618,145 620,158 626,166 C660,178 720,196 765,214 C782,220 796,228 798,238 C796,250 782,258 766,263 C750,273 720,285 690,293 C665,306 640,326 615,351 C598,369 586,396 581,421 C578,441 581,463 590,479 C580,484 565,481 555,470 C544,455 530,436 514,425 C490,418 450,412 400,413 C370,418 340,422 314,419 C290,410 260,398 235,396 C210,398 185,401 165,405 C145,407 125,403 116,396 Z" fill="#504234" stroke="#3c3126" stroke-width="4" stroke-linejoin="round"/>
<!-- top-of-back lighter sheen -->
<path d="M150,300 C180,235 230,180 295,156 C350,138 420,145 465,162 C400,158 330,165 275,195 C220,225 180,270 150,300 Z" fill="#5f5141" opacity="0.7"/>
<!-- organ window -->
<path d="M178,332 C180,282 216,216 276,186 C332,164 402,160 452,176 C492,190 522,216 536,250 C546,276 541,302 520,319 C490,336 450,346 410,353 C370,376 320,386 270,379 C232,373 196,386 179,376 C172,362 174,346 178,332 Z" fill="#f6d8e2" stroke="#dba6b8" stroke-width="3"/>
<!-- fat -->
<path d="M179,374 C172,336 190,286 222,262 C238,296 246,344 236,378 C216,384 192,386 179,374 Z" fill="#ead8d0"/>
<!-- lungs -->
<path d="M332,192 C370,170 432,166 472,186 C506,202 526,236 526,268 C500,263 470,268 450,282 C418,270 378,242 332,192 Z" fill="#efbac8" stroke="#d698ac" stroke-width="3"/>
<!-- liver -->
<path d="M400,270 C430,262 470,268 496,286 C500,312 480,336 450,346 C425,352 405,346 400,330 C396,310 396,290 400,270 Z" fill="#e2a6b4" stroke="#c4889a" stroke-width="2.5"/>
<!-- stomach -->
<path d="M364,214 C390,204 416,226 421,260 C426,296 416,332 396,352 C380,346 368,320 362,290 C357,260 358,236 364,214 Z" fill="#d2a0a8" stroke="#b4808a" stroke-width="2.5"/>
<path d="M384,236 C400,242 409,266 406,296 C403,320 396,338 392,344 C382,320 378,270 384,236 Z" fill="#c48e98"/>
<!-- intestine loops -->
<g fill="none" stroke="#e6b0c4" stroke-width="4.5" stroke-linecap="round">
<path d="M232,300 C236,262 258,228 290,212 C316,202 340,210 350,230"/>
<path d="M262,250 C280,232 306,232 316,250 C324,268 312,286 294,290"/>
<path d="M240,330 C250,306 278,298 296,312 C310,326 302,348 284,354"/>
<path d="M228,360 C262,372 310,372 346,356 C362,346 364,326 350,316"/>
<path d="M316,250 C336,246 352,262 350,284 C348,304 334,314 318,310"/>
<path d="M300,330 C318,322 338,332 340,350"/>
<path d="M258,282 C268,276 280,280 284,290"/>
</g>
<!-- heart -->
<ellipse cx="512" cy="297" rx="22" ry="26" fill="#c9669a" stroke="#a84c80" stroke-width="3"/>
<!-- esophagus -->
<path d="M532,284 C546,272 576,265 612,264 C662,262 712,268 754,281" fill="none" stroke="#b47a90" stroke-width="15" stroke-linecap="round"/>
<path d="M532,284 C546,272 576,265 612,264 C662,262 712,268 754,281" fill="none" stroke="#eeaabe" stroke-width="10" stroke-linecap="round"/>
<!-- near ear -->
<path d="M504,166 C514,148 546,141 566,155 C584,168 587,196 579,216 C571,236 551,249 535,241 C514,229 497,196 504,166 Z" fill="#c9a49a" stroke="#8a6c64" stroke-width="3.5"/>
<path d="M516,174 C524,160 546,156 560,167 C572,178 574,198 568,212 C562,226 548,234 538,229 C523,220 510,196 516,174 Z" fill="#dcbab0"/>
<!-- eye nose -->
<circle cx="672" cy="222" r="9" fill="#0a0a0a"/>
<circle cx="675" cy="219" r="2.4" fill="#fff"/>
<ellipse cx="788" cy="236" rx="10" ry="9" fill="#dfa0a0"/>
<!-- whiskers -->
<g fill="none" stroke="#909090" stroke-width="2.4">
<path d="M722,300 C720,315 716,330 712,344"/><path d="M738,298 C740,312 742,328 740,344"/><path d="M752,292 C760,306 764,322 764,340"/>
<path d="M770,212 C772,204 776,196 782,190"/><path d="M782,214 C788,206 794,200 800,196"/>
</g>
</g>

<g id="syringe" transform="translate(370,180) scale(0.2584)">
<!-- needle -->
<path d="M543,334 C538,354 524,380 500,390" fill="none" stroke="#8a8e8a" stroke-width="4" stroke-linecap="round"/>
<path d="M543,334 C538,354 524,380 500,390" fill="none" stroke="#d8dcd8" stroke-width="1.5" stroke-linecap="round"/>
<g transform="translate(545,333) rotate(29)">
<!-- hub -->
<path d="M-10,-16 L10,-16 L5,4 L-5,4 Z" fill="#b4b8b4" stroke="#6e726e" stroke-width="1.5"/>
<!-- barrel outline (glass) -->
<rect x="-25" y="-214" width="50" height="200" rx="3" fill="#e4e8e4" stroke="#7a7e7a" stroke-width="2"/>
<!-- liquid -->
<rect x="-23" y="-78" width="46" height="62" rx="2" fill="#b0cca8"/>
<rect x="-23" y="-78" width="14" height="62" fill="#c8dcc2"/>
<!-- plunger in barrel -->
<rect x="-19" y="-213" width="38" height="135" fill="#5e6060"/>
<rect x="-19" y="-213" width="11" height="135" fill="#808282"/>
<rect x="-21" y="-88" width="42" height="12" rx="2" fill="#2e3030"/>
<!-- flange -->
<rect x="-48" y="-220" width="96" height="6" rx="2" fill="#a8aca8" stroke="#7c807c" stroke-width="1.4"/>
<!-- rod -->
<path d="M-17,-218 L-11,-288 L11,-288 L17,-218 Z" fill="#5e6060" stroke="#3c3e3e" stroke-width="1.5"/>
<path d="M-15,-218 L-9,-288 L-3,-288 L-6,-218 Z" fill="#808282"/>
<!-- cap -->
<rect x="-22" y="-299" width="44" height="12" rx="2" fill="#343636" stroke="#2a2c2c" stroke-width="1.5"/>
</g>
</g>

<g id="vessel" transform="translate(560,170) scale(0.2747)">
<!-- outer wall -->
<path d="M98,82 C100,50 140,28 180,36 C212,42 230,62 235,92 C268,250 264,420 217,574 L198,552 L112,518 L92,538 C126,400 126,250 98,82 Z" fill="#ee8e88" stroke="#d86c68" stroke-width="3"/>
<!-- lumen -->
<path d="M110,98 C134,250 134,400 103,522 L114,510 L202,546 C246,412 247,250 222,98 C206,62 130,56 110,98 Z" fill="url(#lumeng)" stroke="#dc6c68" stroke-width="2.5"/>
<!-- right wall inner line -->
<path d="M226,76 C258,250 254,420 208,562" fill="none" stroke="#f4a8a0" stroke-width="4"/>
<!-- top opening rim -->
<path d="M104,76 C112,48 150,36 182,42 C206,48 222,60 228,80" fill="none" stroke="#f6b4ac" stroke-width="5"/>
<!-- RBCs -->
<g stroke="#a46a72" stroke-width="2.5" fill="url(#rbcg)">
<ellipse cx="135" cy="72" rx="25" ry="38" transform="rotate(-12 135 72)"/>
<ellipse cx="187" cy="168" rx="24" ry="39" transform="rotate(-6 187 168)"/>
<ellipse cx="213" cy="352" rx="24" ry="38" transform="rotate(8 213 352)"/>
<ellipse cx="185" cy="298" rx="35" ry="40"/>
<ellipse cx="168" cy="438" rx="35" ry="39"/>
<ellipse cx="165" cy="545" rx="35" ry="42" transform="rotate(10 165 545)"/>
</g>
</g>

<g id="muscle" transform="translate(690,170) scale(0.2747)">
<!-- tendons -->
<path d="M252,30 L283,36 C276,60 272,85 272,112 L236,104 C246,80 250,55 252,30 Z" fill="url(#teng)" stroke="#c4c4c8" stroke-width="2"/>
<path d="M128,486 L170,500 C156,528 142,556 130,584 L104,576 C116,548 124,518 128,486 Z" fill="url(#teng)" stroke="#c4c4c8" stroke-width="2"/>
<!-- belly -->
<path d="M250,98 C262,94 271,102 274,118 C292,218 276,338 220,434 C199,470 176,498 150,498 C134,500 128,478 128,450 C122,362 144,272 182,204 C202,158 224,120 250,100 Z" fill="url(#musg)" stroke="#d26c7e" stroke-width="2"/>
<!-- highlights -->
<path d="M246,112 C228,160 198,230 180,300 C164,360 152,420 150,470" fill="none" stroke="#f0a8b0" stroke-width="6" opacity="0.5"/>
<path d="M262,130 C256,200 232,290 200,360 C184,396 168,440 158,480" fill="none" stroke="#f0a4ae" stroke-width="6" opacity="0.45"/>
<path d="M270,180 C268,260 246,340 214,410" fill="none" stroke="#d8667a" stroke-width="4" opacity="0.7"/>
<path d="M218,150 C188,210 158,290 142,380" fill="none" stroke="#d8667a" stroke-width="3" opacity="0.5"/>
<!-- tendon blending -->
<path d="M238,104 C248,120 262,124 272,112" fill="#f0d8dc" stroke="none" opacity="0.9"/>
<path d="M126,484 C136,470 160,476 172,498" fill="#f2dce0" stroke="none" opacity="0.9"/>
</g>

<!-- zoom beam -->
<path d="M736.5,288.7 C780,278 826,262 858,238 L858,321 C815,310 775,299 736.5,288.7 Z" fill="url(#beamg)"/>
<g id="fiber" transform="translate(830,170) scale(0.2747)">
<path d="M104,98 C102,55 138,32 172,32 C210,32 240,55 240,92 C264,250 264,400 242,538 C238,582 206,602 170,600 C134,596 110,570 113,538 C136,420 136,260 104,98 Z" fill="url(#fibg)" stroke="#c85a72" stroke-width="3"/>
<!-- light bands -->
<g fill="#d25a72" opacity="0.5">
<path d="M112,120 C130,84 190,62 228,66 C196,76 150,100 116,150 Z"/>
<path d="M126,240 C150,196 200,172 246,172 C210,188 160,214 131,270 Z"/>
<path d="M134,330 C156,290 205,266 254,266 C214,280 165,306 136,358 Z"/>
<path d="M133,412 C156,372 204,350 254,352 C214,364 164,390 132,440 Z"/>
<path d="M124,494 C148,456 196,436 248,438 C208,450 156,474 120,520 Z"/>
</g>
<path d="M116,110 C140,260 142,410 122,530" fill="none" stroke="#f6b4be" stroke-width="7" opacity="0.8"/><path d="M232,96 C256,250 256,400 234,532" fill="none" stroke="#f2a6b2" stroke-width="5" opacity="0.75"/>
<!-- nuclei -->
<g fill="#f09aa8" stroke="#c05068" stroke-width="2.5">
<ellipse cx="200" cy="95" rx="10" ry="15"/>
<ellipse cx="131" cy="150" rx="10" ry="15"/>
<ellipse cx="180" cy="275" rx="10" ry="16"/>
<ellipse cx="235" cy="420" rx="10" ry="15"/>
<ellipse cx="150" cy="456" rx="10" ry="15"/>
</g>
<!-- cross-section -->
<ellipse cx="177" cy="550" rx="63" ry="46" transform="rotate(-4 177 550)" fill="#f6b6c0" stroke="#c85a72" stroke-width="3"/>
<ellipse cx="177" cy="550" rx="54" ry="38" transform="rotate(-4 177 550)" fill="url(#dots)"/>
</g>

<g id="mouse2" transform="translate(960,230) scale(0.18567)">
<!-- ladder -->
<g fill="none" stroke="#9e9e9e" stroke-width="11" stroke-linejoin="round">
<path d="M-88,-166 L9,-160 L134,90 L46,113 Z" fill="#ffffff"/>
<path d="M-69,-126 L27,-124"/><path d="M-50,-86 L45,-88"/><path d="M-31,-46 L63,-52"/><path d="M-12,-6 L81,-16"/><path d="M7,35 L99,20"/><path d="M26,75 L117,56"/>
</g>
<g fill="none" stroke="#dedede" stroke-width="3">
<path d="M-88,-166 L9,-160 L134,90 L46,113 Z"/>
</g>
<!-- glove -->
<path d="M608,434 C622,424 640,420 655,416 C675,412 690,402 704,392 L731,374 L731,581 L702,581 C690,560 670,538 650,526 C628,514 612,508 602,498 C590,488 582,478 582,468 C584,452 596,442 608,434 Z" fill="#a9d6f3" stroke="#8ebde4" stroke-width="3"/>
<path d="M606,440 C630,450 680,456 731,458 M712,463 C720,468 726,474 731,480 M640,480 C660,470 690,468 712,463" fill="none" stroke="#8ab9e2" stroke-width="3"/>
<!-- tail -->
<path d="M486,412 C526,424 566,432 610,440" fill="none" stroke="#e4aaa6" stroke-width="18" stroke-linecap="round"/>
<path d="M486,412 C526,424 566,432 610,440" fill="none" stroke="#efbcb6" stroke-width="10" stroke-linecap="round"/>
<!-- rear feet -->
<path d="M344,492 C326,508 296,520 266,526 C262,514 280,500 306,492 Z" fill="#ecb6b2" stroke="#d69a98" stroke-width="3"/>
<path d="M316,438 C306,448 296,454 288,454 C290,444 302,434 316,438 Z" fill="#ecb6b2"/>
<!-- body -->
<path d="M166,58 C178,58 196,68 212,84 C224,96 236,106 246,112 C256,102 276,104 286,116 C292,130 284,144 270,150 C284,170 300,196 318,226 C340,262 380,296 430,344 C456,368 480,390 492,408 C492,420 484,430 470,434 C440,440 400,452 372,470 C360,480 352,494 342,492 C330,486 318,462 304,440 C276,400 238,346 206,292 C186,258 166,222 152,192 C140,170 128,148 118,130 C110,118 104,108 108,100 C118,94 130,100 140,112 C144,96 150,70 166,58 Z" fill="#504234" stroke="#3c3126" stroke-width="4" stroke-linejoin="round"/>
<path d="M300,210 C330,260 390,310 470,392 C420,350 350,300 300,250 Z" fill="#5f5141" opacity="0.6"/>
<!-- pink ear -->
<ellipse cx="244" cy="166" rx="29" ry="24" transform="rotate(-18 244 166)" fill="#e9b2b0" stroke="#6a5048" stroke-width="4"/>
<!-- paws -->
<path d="M92,104 C98,92 116,88 126,96 C124,112 104,120 92,104 Z" fill="#ecb6b2"/>
<path d="M122,92 C130,82 146,84 150,94 C144,106 128,106 122,92 Z" fill="#ecb6b2"/>
<circle cx="196" cy="112" r="5" fill="#111"/>
</g>


<!-- up / down arrows -->
<g fill="#c22430">
<path d="M384.2,345.2 H395.3 V358.4 H403 L389.8,369.8 L376.6,358.4 H384.2 Z"/>
<path d="M542.1,345.2 H553.2 V358.4 H560.8 L547.6,369.8 L534.6,358.4 H542.1 Z"/>
</g>
<g fill="#20b62e">
<path d="M688.6,346 L701.4,357.2 H694 V368.8 H683.4 V357.2 H676 Z"/>
<path d="M829.8,346 L842.7,357.2 H835.2 V368.8 H824.6 V357.2 H817 Z"/>
<path d="M982.5,346 L995.6,357.2 H988 V368.8 H977.4 V357.2 H969.6 Z"/>
</g>

<g id="footer" font-family="Liberation Sans, sans-serif">
<!-- BMJ Group -->
<text x="19.8" y="577.2" font-size="21.8" font-weight="bold" fill="#1b3a5e" stroke="#1b3a5e" stroke-width="0.3" textLength="40" lengthAdjust="spacingAndGlyphs">BM</text>
<path d="M62.2,561.6 H66.8 V578 C66.8,583 63.6,585.6 58.8,585.2 L58.4,581.8 C61,582 62.2,580.8 62.2,578 Z" fill="#1b3a5e"/>
<text x="72" y="577.2" font-size="22.6" fill="#777777" stroke="#ffffff" stroke-width="0.4" textLength="62" lengthAdjust="spacingAndGlyphs">Group</text>
<!-- bsg -->
<text x="143.6" y="577.2" font-size="30.5" fill="#141414" stroke="#ffffff" stroke-width="0.4" textLength="27.8" lengthAdjust="spacingAndGlyphs">bs</text>
<text x="171.2" y="577.2" font-size="30.5" fill="#6f8fb6" stroke="#ffffff" stroke-width="0.4" textLength="14.5" lengthAdjust="spacingAndGlyphs">g</text>
<path d="M174.5,580 C173.5,584 177,587.6 181.5,587.6 C186,587.6 189.2,584.4 188.4,581 C187.6,578.2 183.6,577.8 182.2,580.2 C181.2,582.2 183,584.2 185,583.2" fill="none" stroke="#6f8fb6" stroke-width="1.3"/>
<!-- gut.bmj.com -->
<text x="215.2" y="577.8" font-size="15.8" font-weight="bold" fill="#e4a228" stroke="#e4a228" stroke-width="0.7" textLength="105.8" lengthAdjust="spacingAndGlyphs">gut.bmj.com</text>
<!-- X logo -->
<g transform="translate(346.2,560.6) scale(0.772,0.96)">
<path d="M2.4,2.6 L8.2,2.6 L21.8,21.4 L16,21.4 Z" fill="#fff" stroke="#1a1a1a" stroke-width="1.6"/>
<path d="M21.2,2.4 L13.7,11.2 M10.4,13.8 L3.2,21.6" fill="none" stroke="#1a1a1a" stroke-width="1.9"/>
</g>
<!-- Gut_BMJ -->
<text x="365.8" y="577.8" font-size="15.8" font-weight="bold" fill="#e4a228" stroke="#e4a228" stroke-width="0.7" textLength="74.2" lengthAdjust="spacingAndGlyphs">Gut_BMJ</text>
<!-- Gut logo text -->
<text x="1015" y="583" font-size="44.5" font-weight="bold" fill="#fffbe8" textLength="72" lengthAdjust="spacingAndGlyphs">Gut</text>
</g>

</svg>

<div class="abs" id="concl">Conclusion</div>
<div class="abs para" id="ctext"><div><i>Roseburia inulinivorans</i> emerges as a gut-derived modulator of muscle strength, linking gut</div><div>microbiota to muscle metabolism and function. These findings support its potential as a probiotic</div><div class="last">candidate for nutraceutical interventions targeting age-related muscle-wasting diseases.</div></div>

<!-- flow labels -->
<div class="abs lab" style="left:391.7px;top:343.5px;width:120px;">Intestinal<br>Amino Acids</div>
<div class="abs lab" style="left:551.5px;top:343.5px;width:120px;">Amino Acid<br>Biosynthesis</div>
<div class="abs lab" style="left:681.5px;top:342.8px;width:120px;line-height:16.7px;">Purine and<br>Pentose<br>Phosphate<br>Metabolites</div>
<div class="abs lab" style="left:823px;top:344.8px;width:120px;">Type 2<br>fibers</div>
<div class="abs lab" style="left:968.5px;top:343px;width:120px;">Grip<br>strength</div>

<div class="abs" id="cite">Martinez-Tellez et al. <i>Gut</i> 2026; doi: 10.1136/gutjnl-2025-336980<br>Patent: WO2024025418A1</div>
<div class="abs" id="redge" style="left:1098.6px;top:0;width:1.4px;height:619px;background:rgba(255,244,225,0.5);"></div>
</body>
</html>
